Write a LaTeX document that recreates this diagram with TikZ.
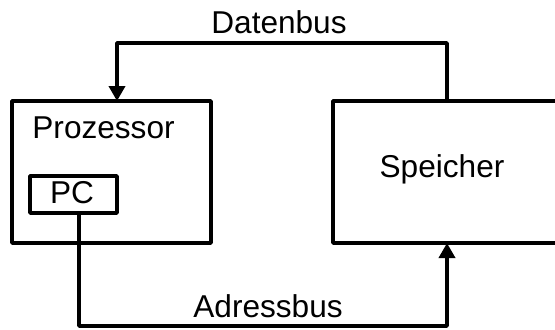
\documentclass[tikz,border=0pt]{standalone}
\usepackage{fontspec}
\setmainfont{Liberation Sans}
\usetikzlibrary{arrows.meta}

\begin{document}
\begin{tikzpicture}[x=0.5pt, y=-0.5pt,
    block/.style={draw, line width=1.8pt, line join=round, rectangle, inner sep=0pt, outer sep=0pt},
    lab/.style={font=\fontsize{15.8}{18}\selectfont, inner sep=0pt},
    bus/.style={line width=1.8pt, line join=round, -{Triangle[width=8pt, length=7.5pt]}}]

% Frame
\useasboundingbox (0, 0) rectangle (555, 329);
\clip (0, 0) rectangle (555, 329);

% Blocks
\node[block, minimum width=99.5pt, minimum height=71pt] (proc) at (111.5, 172) {};
\node[lab, anchor=base west] (proctext) at (32, 138) {Prozessor};

\node[block, minimum width=43.5pt, minimum height=18.5pt] (pc) at (73.5, 194.5) {};
\node[lab, anchor=base] (pctext) at (72, 203) {PC};

\node[block, minimum width=112pt, minimum height=71pt] (spk) at (445, 172) {};
\node[lab, anchor=base] (spktext) at (442, 177) {Speicher};

% Datenbus
\coordinate (dbR) at (447, 43);
\coordinate (dbL) at (117, 43);
\draw[bus] (dbR |- spk.north) -- (dbR) -- (dbL) -- (dbL |- proc.north);
\node[lab, anchor=base] (dblab) at (279, 33) {Datenbus};

% Adressbus
\coordinate (abL) at (79, 326);
\coordinate (abR) at (447, 326);
\draw[bus] (abL |- pc.south) -- (abL) -- (abR) -- (abR |- spk.south);
\node[lab, anchor=base west] (ablab) at (193, 317) {Adressbus};

\end{tikzpicture}
\end{document}
